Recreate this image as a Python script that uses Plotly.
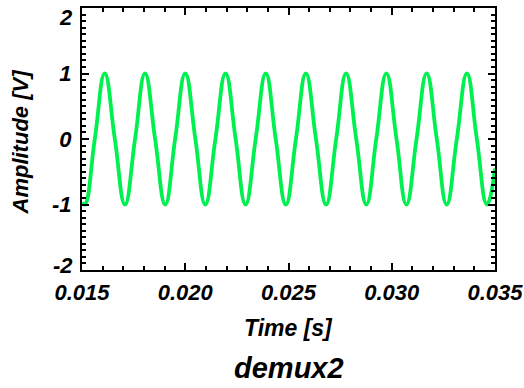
import plotly.graph_objects as go

# Time samples (s): start, then troughs / zero crossings / peaks
time_s = [0.01500, 0.01513, 0.01562, 0.01610, 0.01659, 0.01708, 0.01757, 0.01805, 0.01854,
          0.01903, 0.01951, 0.02000, 0.02049, 0.02097, 0.02146, 0.02195, 0.02244,
          0.02292, 0.02341, 0.02390, 0.02438, 0.02487, 0.02536, 0.02584, 0.02633,
          0.02682, 0.02731, 0.02779, 0.02828, 0.02877, 0.02925, 0.02974, 0.03023,
          0.03071, 0.03120, 0.03169, 0.03218, 0.03266, 0.03315, 0.03364, 0.03412,
          0.03461, 0.03500]
amplitude_v = [-0.97, -1, 0, 1, 0, -1, 0, 1, 0,
               -1, 0, 1, 0, -1, 0, 1, 0,
               -1, 0, 1, 0, -1, 0, 1, 0,
               -1, 0, 1, 0, -1, 0, 1, 0,
               -1, 0, 1, 0, -1, 0, 1, 0,
               -1, -0.45]

x_ticks = [0.015, 0.020, 0.025, 0.030, 0.035]
x_tick_labels = ["0.015", "0.020", "0.025", "0.030", "0.035"]
y_ticks = [-2, -1, 0, 1, 2]
y_tick_labels = ["-2", "-1", "0", "1", "2"]

FONT = "Liberation Sans"
tickfont = dict(family=FONT, size=22, color="black", weight="bold", style="italic")

fig = go.Figure()
fig.add_trace(go.Scatter(
    x=time_s, y=amplitude_v, mode="lines",
    line=dict(color="#00f050", width=3.8, shape="spline", smoothing=1.3),
    showlegend=False, hoverinfo="skip"))

axis_common = dict(
    showline=True, linecolor="black", linewidth=2, mirror="allticks",
    ticks="inside", tickcolor="black", tickwidth=2, ticklen=7,
    showgrid=False, zeroline=False, tickfont=tickfont,
    automargin=False, ticklabeloverflow="allow",
)

# End labels of the y axis sit nudged inside the frame (as in the reference),
# so they are drawn as annotations at their tick values; inner labels are axis labels.
edge_idx = [0, len(y_ticks) - 1]
axis_y_text = ["" if i in edge_idx else t for i, t in enumerate(y_tick_labels)]

fig.update_xaxes(range=[0.015, 0.035], tickvals=x_ticks, ticktext=x_tick_labels,
                 minor=dict(dtick=0.001, ticks="inside", ticklen=4, tickwidth=2,
                            tickcolor="black", showgrid=False),
                 ticklabelstandoff=2,
                 **axis_common)
fig.update_yaxes(range=[-2, 2], tickvals=y_ticks, ticktext=axis_y_text,
                 minor=dict(dtick=0.1, ticks="inside", ticklen=4, tickwidth=2,
                            tickcolor="black", showgrid=False),
                 ticklabelstandoff=4,
                 **axis_common)

for i, shift in zip(edge_idx, [5, -9]):
    fig.add_annotation(text=y_tick_labels[i], xref="paper", yref="y", x=0, y=y_ticks[i],
                       xanchor="right", yanchor="middle", xshift=-7, yshift=shift,
                       showarrow=False, font=tickfont)

fig.add_annotation(text="Time [s]", xref="paper", yref="paper", x=0.5, y=-0.222,
                   xanchor="center", yanchor="middle", showarrow=False,
                   font=dict(family=FONT, size=23, color="black", weight="bold", style="italic"))
fig.add_annotation(text="demux2", xref="paper", yref="paper", x=0.5, y=-0.375,
                   xanchor="center", yanchor="middle", showarrow=False,
                   font=dict(family=FONT, size=29, color="black", weight="bold", style="italic"))
fig.add_annotation(text="Amplitude [V]", xref="paper", yref="paper", x=-0.148, y=0.49,
                   xanchor="center", yanchor="middle", showarrow=False, textangle=-90,
                   font=dict(family=FONT, size=22, color="black", weight="bold", style="italic"))

fig.update_layout(
    width=524, height=388,
    margin=dict(l=82, r=29, t=8, b=118),
    paper_bgcolor="white", plot_bgcolor="white",
)

fig.write_html("out.html", config={"displayModeBar": False},
               post_script="document.body.style.margin='0';")
